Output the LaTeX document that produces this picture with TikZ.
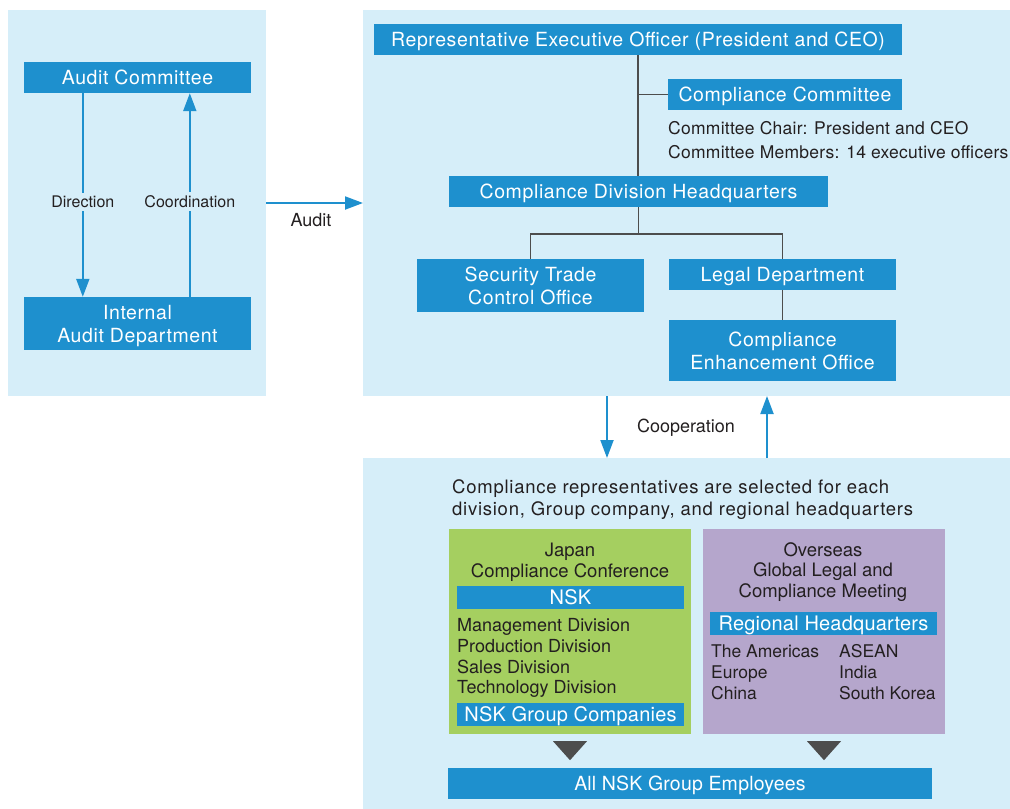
\documentclass[tikz,border=0pt]{standalone}
\usepackage{fontspec}
\setmainfont{TeX Gyre Heros}
\newfontfamily\boxfont[LetterSpace=3]{TeX Gyre Heros}
\newfontfamily\stripfont[LetterSpace=1]{TeX Gyre Heros}
\newfontfamily\introfont[LetterSpace=4]{TeX Gyre Heros}
\newfontfamily\notefont[LetterSpace=1.5]{TeX Gyre Heros}
\usetikzlibrary{arrows.meta,positioning}
\definecolor{panelblue}{HTML}{D6EEF9}
\definecolor{boxblue}{HTML}{1E90CE}
\definecolor{jpgreen}{HTML}{A5CF60}
\definecolor{ospurple}{HTML}{B5A6CC}
\definecolor{linegray}{HTML}{4D4D4D}
\definecolor{textdark}{HTML}{231F20}

\begin{document}
\begin{tikzpicture}[
            x=1pt, y=-1pt,
            panel/.style={fill=panelblue, inner sep=0pt, outer sep=0pt},
            bluebox/.style={fill=boxblue, text=white, inner sep=0pt, align=center,
              text depth=0pt, font=\boxfont\fontsize{19.5}{23}\selectfont},
            onebox/.style={bluebox, text height=14pt},
            strip/.style={onebox, minimum width=227pt, minimum height=23pt,
              font=\stripfont\fontsize{20}{24}\selectfont},
            flowtext/.style={text=textdark, font=\fontsize{16}{19}\selectfont},
            body/.style={text=textdark, inner sep=0pt, font=\fontsize{18}{21}\selectfont},
            flow/.style={draw=boxblue, line width=2pt, -{Triangle[length=18pt,width=13pt]}},
            orgline/.style={draw=linegray, line width=1.5pt},
            pointer/.style={fill=linegray}
        ]
            \useasboundingbox (0,0) rectangle (1010,809);

            % Fondos
            \node[panel, minimum width=258pt, minimum height=386pt] (leftpanel) at (137,203) {};
            \node[panel, minimum width=647pt, minimum height=386pt] (toppanel) at (686.5,203) {};
            \node[panel, minimum width=647pt, minimum height=351pt] (botpanel) at (686.5,633.5) {};

            % Auditoria
            \node[onebox, minimum width=227pt, minimum height=31pt] (audit) at (137.5,77.5) {Audit Committee};
            \node[bluebox, minimum width=227pt, minimum height=53pt] (internal) at (137.5,323.5) {Internal\\Audit Department};
            \draw[flow] ([xshift=59pt]audit.south west) -- ([xshift=59pt]internal.north west)
                node[flowtext, pos=0.534, fill=panelblue] (direction) {Direction};
            \draw[flow] ([xshift=166pt]internal.north west) -- ([xshift=166pt]audit.south west)
                node[flowtext, pos=0.466, fill=panelblue] (coordination) {Coordination};
            \draw[flow] (leftpanel.east) -- (toppanel.west)
                node[flowtext, midway, below=6pt, xshift=-3.5pt, inner sep=3pt, font=\fontsize{18}{21}\selectfont] (auditlabel) {Audit};

            % Organizacion
            \node[onebox, minimum width=528pt, minimum height=31pt] (rep) at (638,39.5) {Representative Executive Officer (President and CEO)};
            \node[onebox, minimum width=234pt, minimum height=31pt] (cc) at (785,94.5) {Compliance Committee};
            \node[body, anchor=base west, font=\notefont\fontsize{17.5}{21}\selectfont] (chair) at (668,134) {Committee Chair: President and CEO};
            \node[body, anchor=base west, font=\notefont\fontsize{17.5}{21}\selectfont] (members) at (668,158) {Committee Members: 14 executive officers};
            \node[onebox, minimum width=379pt, minimum height=31pt] (cdh) at (638.5,191.5) {Compliance Division Headquarters};
            \node[bluebox, minimum width=227pt, minimum height=53pt] (stco) at (530.5,285.5) {Security Trade\\Control Office};
            \node[onebox, minimum width=227pt, minimum height=31pt] (legal) at (782.5,274.5) {Legal Department};
            \node[bluebox, minimum width=227pt, minimum height=61pt] (ceo) at (782.5,350.5) {Compliance\\Enhancement Office};

            \draw[orgline] (rep.south) -- (rep.south |- cdh.north);
            \draw[orgline] (rep.south |- cc.west) -- (cc.west);
            \draw[orgline] (cdh.south) -- ++(0,27) coordinate (split);
            \draw[orgline] (stco.north) |- (split) -| (legal.north);
            \draw[orgline] (legal.south) -- (ceo.north);

            % Cooperacion
            \draw[flow] ([xshift=-79.5pt]toppanel.south) -- ([xshift=-79.5pt]botpanel.north);
            \draw[flow] ([xshift=80.5pt]botpanel.north) -- ([xshift=80.5pt]toppanel.south);
            \node[flowtext, anchor=base, font=\fontsize{18}{21}\selectfont] (coop) at (686,432.5) {Cooperation};

            % Representantes
            \node[body, anchor=north west, align=left, font=\introfont\fontsize{18.5}{22}\selectfont] (intro) at (452,479.3)
                {Compliance representatives are selected for each\\division, Group company, and regional headquarters};

            % Japon
            \node[fill=jpgreen, minimum width=242pt, minimum height=205pt, inner sep=0pt] (japan) at (570,631.5) {};
            \node[body, anchor=north, align=center, font=\fontsize{18.5}{21}\selectfont] (jptitle) at (570,542.4) {Japan\\Compliance Conference};
            \node[strip] (nsk) at (570.5,597.5) {NSK};
            \node[body, anchor=north west, align=left, font=\fontsize{18}{20.7}\selectfont] (divisions) at (457,618.5)
                {Management Division\\Production Division\\Sales Division\\Technology Division};
            \node[strip] (groupcos) at (570.5,714.5) {NSK Group Companies};

            % Extranjero
            \node[fill=ospurple, minimum width=242pt, minimum height=205pt, inner sep=0pt] (overseas) at (824,631.5) {};
            \node[body, anchor=north, align=center, font=\fontsize{18.5}{20.5}\selectfont] (ostitle) at (823,542.4) {Overseas\\Global Legal and\\Compliance Meeting};
            \node[strip] (rhq) at (823.5,623.5) {Regional Headquarters};
            \node[body, anchor=north west, align=left, font=\fontsize{17.5}{21}\selectfont] (regionsa) at (711,644.5) {The Americas\\Europe\\China};
            \node[body, anchor=north west, align=left, font=\fontsize{17.5}{21}\selectfont] (regionsb) at (839,644.5) {ASEAN\\India\\South Korea};

            % Empleados
            \fill[pointer] (japan.south) ++(-17,7) -- ++(34,0) -- ++(-17,19) -- cycle;
            \fill[pointer] (overseas.south) ++(-17,7) -- ++(34,0) -- ++(-17,19) -- cycle;
            \node[onebox, minimum width=484pt, minimum height=31pt, font=\stripfont\fontsize{19.5}{23}\selectfont] (employees) at (690,783.5) {All NSK Group Employees};

        \end{tikzpicture}
\end{document}
